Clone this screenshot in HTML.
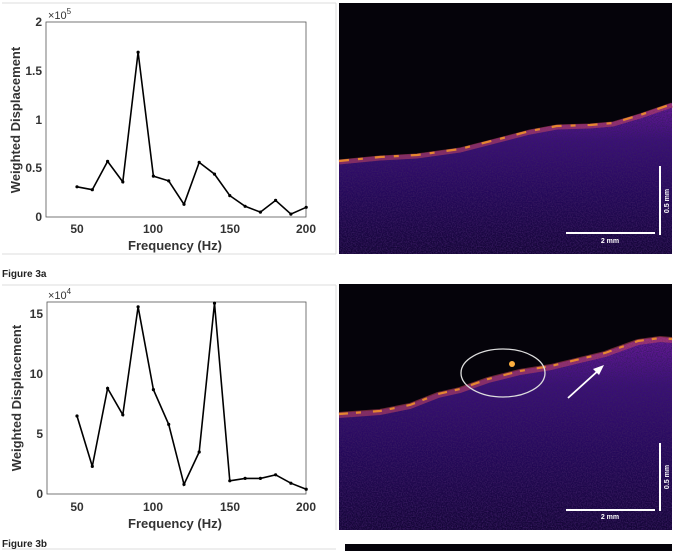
<!DOCTYPE html>
<html><head><meta charset="utf-8"><style>
body{margin:0;background:#fff;width:675px;height:551px;overflow:hidden;font-family:"Liberation Sans",sans-serif}
</style></head><body>
<svg width="675" height="551" viewBox="0 0 675 551" xmlns="http://www.w3.org/2000/svg" font-family="Liberation Sans, sans-serif">
<defs>
<filter id="nz" x="0" y="0" width="100%" height="100%">
<feTurbulence type="fractalNoise" baseFrequency="0.8" numOctaves="2" seed="3" result="t"/>
<feColorMatrix in="t" type="matrix" values="0 0 0 0 0.04  0 0 0 0 0.01  0 0 0 0 0.12  0 0 0 2.2 -0.8" result="c"/>
<feComposite in="c" in2="SourceGraphic" operator="in"/>
</filter>
<linearGradient id="tis" x1="0" y1="0" x2="0" y2="1">
<stop offset="0" stop-color="#6a1a9a"/><stop offset="0.25" stop-color="#3a1078"/><stop offset="0.6" stop-color="#24095a"/><stop offset="1" stop-color="#140636"/>
</linearGradient>
</defs>
<line x1="2" y1="3" x2="336" y2="3" stroke="#ddd"/>
<line x1="336" y1="3" x2="336" y2="254" stroke="#ddd"/>
<line x1="2" y1="254" x2="336" y2="254" stroke="#ddd"/>
<line x1="2" y1="285" x2="336" y2="285" stroke="#ddd"/>
<line x1="336" y1="285" x2="336" y2="530" stroke="#ddd"/>
<line x1="2" y1="549" x2="336" y2="549" stroke="#ddd"/>
<text x="2" y="277" font-size="10" font-weight="bold" fill="#222">Figure 3a</text>
<text x="2" y="547" font-size="10" font-weight="bold" fill="#222">Figure 3b</text>

<g>
<rect x="46" y="22" width="260" height="195" fill="#fff" stroke="#555" stroke-width="0.8"/>
<g font-size="12" font-weight="bold" fill="#333" text-anchor="middle">
<text x="77" y="233">50</text><text x="153" y="233">100</text><text x="230" y="233">150</text><text x="306" y="233">200</text>
<text x="175" y="250" font-size="13">Frequency (Hz)</text>
</g>
<g font-size="12" font-weight="bold" fill="#333" text-anchor="end">
<text x="42" y="221">0</text><text x="42" y="172">0.5</text><text x="42" y="124">1</text><text x="42" y="75">1.5</text><text x="42" y="26">2</text>
</g>
<text x="48" y="19" font-size="11" fill="#333">×10<tspan font-size="8" dy="-5">5</tspan></text>
<text transform="translate(20,120) rotate(-90)" font-size="13" font-weight="bold" fill="#333" text-anchor="middle">Weighted Displacement</text>
<polyline fill="none" stroke="#000" stroke-width="1.6" points="77,186.8 92.3,189.7 107.6,161.4 122.8,181.9 138.1,52.2 153.4,176.1 168.7,180.9 184,204.3 199.2,162.4 214.5,174.1 229.8,195.6 245.1,206.3 260.4,212.1 275.6,200.4 290.9,214.1 306.2,207.3"/>
<g fill="#000"><circle cx="77" cy="186.8" r="1.6"/><circle cx="92.3" cy="189.7" r="1.6"/><circle cx="107.6" cy="161.4" r="1.6"/><circle cx="122.8" cy="181.9" r="1.6"/><circle cx="138.1" cy="52.2" r="1.6"/><circle cx="153.4" cy="176.1" r="1.6"/><circle cx="168.7" cy="180.9" r="1.6"/><circle cx="184" cy="204.3" r="1.6"/><circle cx="199.2" cy="162.4" r="1.6"/><circle cx="214.5" cy="174.1" r="1.6"/><circle cx="229.8" cy="195.6" r="1.6"/><circle cx="245.1" cy="206.3" r="1.6"/><circle cx="260.4" cy="212.1" r="1.6"/><circle cx="275.6" cy="200.4" r="1.6"/><circle cx="290.9" cy="214.1" r="1.6"/><circle cx="306.2" cy="207.3" r="1.6"/></g>
</g>

<g>
<rect x="47" y="302" width="259" height="192" fill="#fff" stroke="#555" stroke-width="0.8"/>
<g font-size="12" font-weight="bold" fill="#333" text-anchor="middle">
<text x="77" y="511">50</text><text x="153" y="511">100</text><text x="230" y="511">150</text><text x="306" y="511">200</text>
<text x="175" y="528" font-size="13">Frequency (Hz)</text>
</g>
<g font-size="12" font-weight="bold" fill="#333" text-anchor="end">
<text x="43" y="498">0</text><text x="43" y="438">5</text><text x="43" y="378">10</text><text x="43" y="318">15</text>
</g>
<text x="48" y="299" font-size="11" fill="#333">×10<tspan font-size="8" dy="-5">4</tspan></text>
<text transform="translate(21,398) rotate(-90)" font-size="13" font-weight="bold" fill="#333" text-anchor="middle">Weighted Displacement</text>
<polyline fill="none" stroke="#000" stroke-width="1.6" points="77,416 92.3,466.4 107.6,388.4 122.8,414.8 138.1,306.8 153.4,389.6 168.7,424.4 184,484.4 199.2,452 214.5,303.2 229.8,480.8 245.1,478.4 260.4,478.4 275.6,474.8 290.9,483.2 306.2,489.2"/>
<g fill="#000"><circle cx="77" cy="416" r="1.6"/><circle cx="92.3" cy="466.4" r="1.6"/><circle cx="107.6" cy="388.4" r="1.6"/><circle cx="122.8" cy="414.8" r="1.6"/><circle cx="138.1" cy="306.8" r="1.6"/><circle cx="153.4" cy="389.6" r="1.6"/><circle cx="168.7" cy="424.4" r="1.6"/><circle cx="184" cy="484.4" r="1.6"/><circle cx="199.2" cy="452" r="1.6"/><circle cx="214.5" cy="303.2" r="1.6"/><circle cx="229.8" cy="480.8" r="1.6"/><circle cx="245.1" cy="478.4" r="1.6"/><circle cx="260.4" cy="478.4" r="1.6"/><circle cx="275.6" cy="474.8" r="1.6"/><circle cx="290.9" cy="483.2" r="1.6"/><circle cx="306.2" cy="489.2" r="1.6"/></g>
</g>

<rect x="339" y="3" width="333" height="251" fill="#05030a"/>
<polygon points="339,160 380,156 417,154 460,148 503,137 530,130 557,125 590,124 613,122 640,114 672,103 672,254 339,254" fill="url(#tis)"/>
<polygon points="339,160 380,156 417,154 460,148 503,137 530,130 557,125 590,124 613,122 640,114 672,103 672,254 339,254" fill="#fff" filter="url(#nz)"/>
<polyline fill="none" stroke="#d04a60" stroke-width="5" opacity="0.5" points="339,162 380,158 417,156 460,150 503,139 530,132 557,127 590,126 613,124 640,116 672,105"/>
<polyline fill="none" stroke="#f0902a" stroke-width="2.2" stroke-dasharray="10,9,5,12" opacity="0.9" points="339,161 380,157 417,155 460,149 503,138 530,131 557,126 590,125 613,123 640,115 672,104"/>
<line x1="660" y1="166" x2="660" y2="235" stroke="#fff" stroke-width="2"/>
<line x1="566" y1="233" x2="655" y2="233" stroke="#fff" stroke-width="2"/>
<text x="610" y="243" font-size="7" font-weight="bold" fill="#fff" text-anchor="middle">2 mm</text>
<text transform="translate(669,201) rotate(-90)" font-size="7" font-weight="bold" fill="#fff" text-anchor="middle">0.5 mm</text>

<rect x="339" y="284" width="333" height="246" fill="#05030a"/>
<polygon points="339,413 380,410 410,404 438,393 460,388 488,378 520,370 551,365 580,358 605,352 638,340 660,337 672,338 672,530 339,530" fill="url(#tis)"/>
<polygon points="339,413 380,410 410,404 438,393 460,388 488,378 520,370 551,365 580,358 605,352 638,340 660,337 672,338 672,530 339,530" fill="#fff" filter="url(#nz)"/>
<polyline fill="none" stroke="#d04a60" stroke-width="6" opacity="0.5" points="339,415 380,412 410,406 438,395 460,390 488,380 520,372 551,367 580,360 605,354 638,342 660,339 672,340"/>
<polyline fill="none" stroke="#f0902a" stroke-width="2.2" stroke-dasharray="9,8,5,12" opacity="0.9" points="339,414 380,411 410,405 438,394 460,389 488,379 520,371 551,366 580,359 605,353 638,341 660,338 672,339"/>
<circle cx="512" cy="364" r="3" fill="#ffb040"/>
<ellipse cx="503" cy="373" rx="42" ry="24" fill="none" stroke="#ddd" stroke-width="1.3"/>
<line x1="568" y1="398" x2="600" y2="369" stroke="#fff" stroke-width="1.8"/>
<polygon points="604,365 593,369 599,375" fill="#fff"/>
<line x1="660" y1="443" x2="660" y2="511" stroke="#fff" stroke-width="2"/>
<line x1="566" y1="510" x2="655" y2="510" stroke="#fff" stroke-width="2"/>
<text x="610" y="519" font-size="7" font-weight="bold" fill="#fff" text-anchor="middle">2 mm</text>
<text transform="translate(669,477) rotate(-90)" font-size="7" font-weight="bold" fill="#fff" text-anchor="middle">0.5 mm</text>

<rect x="345" y="544" width="327" height="7" fill="#05030a"/>
</svg>
</body></html>
